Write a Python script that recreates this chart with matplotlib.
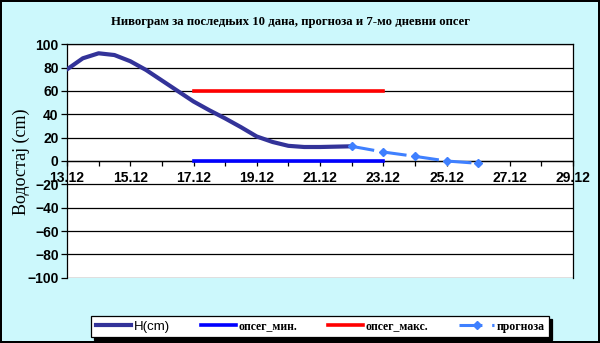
import matplotlib
matplotlib.use("Agg")
import matplotlib.pyplot as plt
from matplotlib.lines import Line2D

# water level (day of December)
h_days = [13, 13.5, 14, 14.5, 15, 15.5, 16, 16.5, 17, 17.5, 18, 18.5, 19, 19.5, 20, 20.5, 21, 21.5, 22]
h_vals = [78.5, 88, 92.3, 90.8, 85.5, 78, 69, 60, 51, 43.5, 36.5, 29, 21, 16.3, 13, 12, 12, 12.3, 12.6]

fc_days = [22, 23, 24, 25, 26]
fc_vals = [12.6, 7.7, 4, 0, -2]

band_days = [17, 23]
band_min = [0, 0]
band_max = [60, 60]

tick_days = list(range(13, 30, 2))
tick_labels = ["%d.12" % d for d in tick_days]

title = "Нивограм за последњих 10 дана, прогноза и 7-мо дневни опсег"
ylabel = "Водостај (cm)"
labels = ["H(cm)", "опсег_мин.", "опсег_макс.", "прогноза"]

bg = "#ccf8fc"
c_h = "#333399"
c_min = "#0000ff"
c_max = "#ff0000"
c_fc = "#3f80ff"

fig = plt.figure(figsize=(6, 3.43), dpi=100, facecolor=bg, edgecolor="black", linewidth=1.5)
ax = fig.add_axes([67 / 600, 1 - 277.7 / 343, (573 - 67) / 600, (277.7 - 44.3) / 343])
ax.set_facecolor("white")

ax.plot(h_days, h_vals, color=c_h, lw=3.0, solid_capstyle="round", solid_joinstyle="round", zorder=4)
ax.plot(band_days, band_min, color=c_min, lw=2.6, zorder=3)
ax.plot(band_days, band_max, color=c_max, lw=2.6, zorder=3)
ax.plot(fc_days, fc_vals, color=c_fc, lw=2.2, dashes=(7.5, 3.2), marker="D", ms=3.8, zorder=4)

ax.set_xlim(13, 29)
ax.set_ylim(-100, 100)
ax.set_yticks(range(-100, 101, 20))
ax.yaxis.grid(True, color="black", lw=0.9)
ax.set_axisbelow(True)
ax.set_xticks(tick_days)
ax.set_xticks(range(13, 30), minor=True)
ax.set_xticklabels(tick_labels)

for s in ["top", "right", "left"]:
    ax.spines[s].set_color("black")
    ax.spines[s].set_linewidth(0.9)
ax.spines["bottom"].set_position(("data", 0))
ax.spines["bottom"].set_linewidth(0.9)

ax.tick_params(axis="x", which="both", direction="out", length=3.5, width=0.9, pad=4)
ax.tick_params(axis="y", direction="out", length=4, width=0.9, pad=2)
for t in ax.get_xticklabels() + ax.get_yticklabels():
    t.set_fontfamily("Liberation Sans")
    t.set_fontweight("bold")
    t.set_fontsize(10)

fig.text(0.484, 0.936, title, ha="center", va="center", family="Liberation Serif",
         fontweight="bold", fontsize=9.2)
fig.text(21 / 600, 0.528, ylabel, ha="center", va="center", rotation=90,
         family="Liberation Serif", fontsize=13)

handles = [
    Line2D([], [], color=c_h, lw=3.0),
    Line2D([], [], color=c_min, lw=2.6),
    Line2D([], [], color=c_max, lw=2.6),
    Line2D([], [], color=c_fc, lw=2.2, dashes=(7.5, 3.2), marker="D", ms=3.8),
]
leg = fig.legend(handles, labels, loc="center", bbox_to_anchor=(0.534, 0.048),
                 bbox_transform=fig.transFigure, ncol=4, frameon=True, fancybox=False,
                 shadow={"color": "black", "alpha": 1}, edgecolor="black",
                 prop={"family": "Liberation Serif", "weight": "bold", "size": 8.5},
                 handlelength=3.0, handletextpad=0.2, columnspacing=2.6,
                 borderpad=0.4, numpoints=1)
leg.get_frame().set_linewidth(0.9)
leg.get_texts()[0].set_family("Liberation Sans")
leg.get_texts()[0].set_fontweight("normal")
leg.get_texts()[0].set_fontsize(9.5)

fig.savefig("out.png", dpi=100, facecolor=bg, edgecolor="black")
